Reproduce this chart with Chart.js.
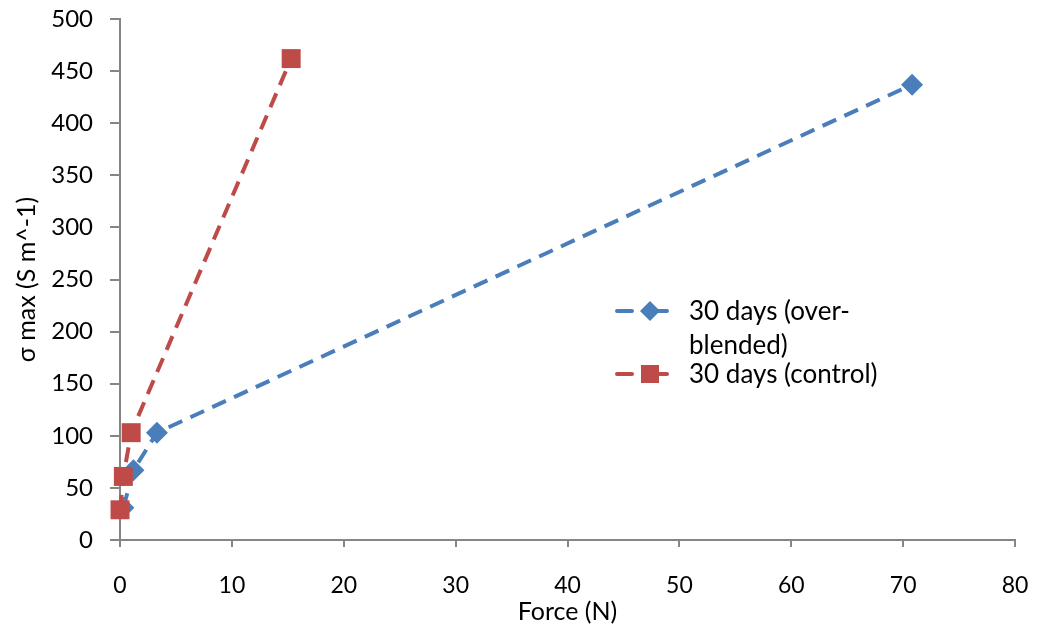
<!DOCTYPE html>
<html lang="en">
<head>
    <meta charset="UTF-8">
    <title>Sigma max vs Force</title>
    <script src="https://cdn.jsdelivr.net/npm/chart.js"></script>
    <style>
        body { margin: 0; background: #fff; }
        #wrap { width: 1040px; height: 627px; position: relative; }
    </style>
</head>
<body>
    <div id="wrap"><canvas id="chart"></canvas></div>
    <script>
        // data
        const overForce = [0.3, 1.2, 3.3, 70.8];
        const overSigma = [31, 67, 103, 437];
        const ctrlForce = [0.0, 0.3, 1.0, 15.3];
        const ctrlSigma = [29, 61, 103, 462];
        const overLabel = ["30 days (over-", "blended)"];
        const ctrlLabel = ["30 days (control)"];

        const FONT = "Lato, 'Open Sans', sans-serif";
        const blue = "#4a7ebb";
        const red = "#be4b48";

        // legend drawn inside plot area like the original
        const innerLegend = {
            id: 'innerLegend',
            afterDraw(chart) {
                const ctx = chart.ctx;
                const items = [
                    { lines: overLabel, color: blue, style: 'rectRot', y: 311 },
                    { lines: ctrlLabel, color: red, style: 'rect', y: 374 }
                ];
                ctx.save();
                items.forEach(it => {
                    ctx.strokeStyle = it.color;
                    ctx.lineWidth = 4;
                    ctx.lineCap = 'round';
                    ctx.beginPath();
                    ctx.moveTo(617, it.y); ctx.lineTo(632, it.y);
                    ctx.moveTo(654, it.y); ctx.lineTo(667, it.y);
                    ctx.stroke();
                    ctx.fillStyle = it.color;
                    if (it.style === 'rectRot') {
                        ctx.beginPath();
                        ctx.moveTo(650, it.y - 10); ctx.lineTo(660, it.y);
                        ctx.lineTo(650, it.y + 10); ctx.lineTo(640, it.y);
                        ctx.closePath(); ctx.fill();
                    } else {
                        ctx.fillRect(641, it.y - 9, 18, 18);
                    }
                    ctx.fillStyle = '#000';
                    ctx.font = "26px " + FONT;
                    ctx.textBaseline = 'middle';
                    it.lines.forEach((t, i) => ctx.fillText(t, 689, it.y + 1 + i * 34));
                });
                ctx.restore();
            }
        };

        new Chart(document.getElementById('chart'), {
            type: 'scatter',
            data: {
                datasets: [
                    {
                        label: overLabel.join(''),
                        data: overForce.map((f, i) => ({ x: f, y: overSigma[i] })),
                        showLine: true,
                        order: 1,
                        clip: false,
                        borderColor: blue,
                        backgroundColor: blue,
                        borderWidth: 4,
                        borderDash: [15, 9],
                        pointStyle: 'rectRot',
                        pointRadius: 11,
                        pointBorderWidth: 0
                    },
                    {
                        label: ctrlLabel[0],
                        data: ctrlForce.map((f, i) => ({ x: f, y: ctrlSigma[i] })),
                        showLine: true,
                        order: 0,
                        clip: false,
                        borderColor: red,
                        backgroundColor: red,
                        borderWidth: 4,
                        borderDash: [15, 9],
                        pointStyle: 'rect',
                        pointRadius: 13.4,
                        pointBorderWidth: 0
                    }
                ]
            },
            options: {
                responsive: true,
                maintainAspectRatio: false,
                animation: false,
                layout: { padding: { top: 0, right: 0, left: 12, bottom: 0 } },
                plugins: { legend: { display: false }, tooltip: { enabled: false } },
                scales: {
                    x: {
                        min: 0, max: 80,
                        ticks: { stepSize: 10, color: '#000', font: { family: FONT, size: 23 }, padding: 25 },
                        grid: { drawOnChartArea: false, tickLength: 7, color: '#868686', lineWidth: 2 },
                        border: { color: '#868686', width: 2 },
                        title: { display: true, text: 'Force (N)', color: '#000', font: { family: FONT, size: 25 }, padding: 0 },
                        afterFit: s => { s.height = 87; s.paddingRight = 25; s.paddingLeft = 0; }
                    },
                    y: {
                        min: 0, max: 500,
                        ticks: { stepSize: 50, color: '#000', font: { family: FONT, size: 24 }, padding: 17 },
                        grid: { drawOnChartArea: false, tickLength: 10, color: '#868686', lineWidth: 2 },
                        border: { color: '#868686', width: 2 },
                        title: { display: true, text: 'σ max (S m^-1)', color: '#000', font: { family: FONT, size: 25 }, padding: 0 },
                        afterFit: s => { s.width = 108; s.paddingTop = 19; s.paddingBottom = 0; }
                    }
                }
            },
            plugins: [innerLegend]
        });
    </script>
</body>
</html>
